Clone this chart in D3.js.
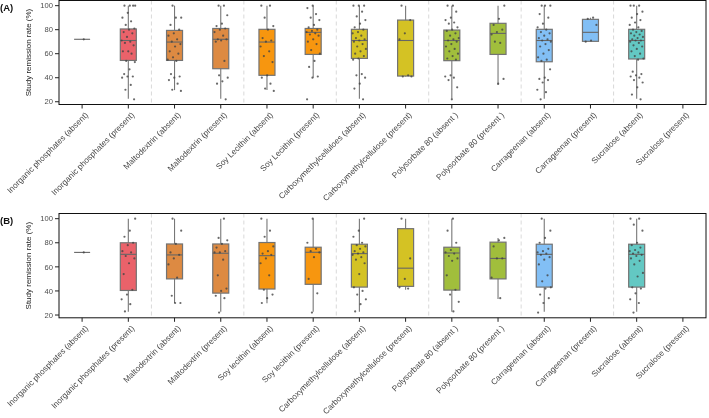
<!DOCTYPE html>
<html><head><meta charset="utf-8">
<script src="https://cdn.jsdelivr.net/npm/d3@7"></script>
<style>body{margin:0;background:#fff}svg{display:block;will-change:transform}text{font-family:"Liberation Sans",Arial,sans-serif}</style>
</head><body><svg id="c" width="709" height="418"></svg>
<script>
// ---------- DATA ----------
const categoriesA = ["Inorganic phosphates (absent)","Inorganic phosphates (present)","Maltodextrin (absent)","Maltodextrin (present)","Soy Lecithin (absent)","Soy Lecithin (present)","Carboxymethylcelluloes (absent)","Carboxymethylcellulose (present)","Polysorbate 80 (absent )","Polysorbate 80 (present )","Carrageenan (absent)","Carrageenan (present)","Sucralose (absent)","Sucralose (present)"];
const categoriesB = ["Inorganic phosphates (absent)","Inorganic phosphates (present)","Maltodextrin (absent)","Maltodextrin (present)","Soy lecithin (absent)","Soy lecithin (present)","Carboxymethylcellulose (absent)","Carboxymethylcellulose (present)","Polysorbate 80 (absent )","Polysorbate 80 (present )","Carrageenan (absent)","Carrageenan (present)","Sucralose (absent)","Sucralose (present)"];
const yTicks = [20,40,60,80,100];
// box stats: [lower whisker, Q1, median, Q3, upper whisker]
const statsA = [
 [72,72,72,72,72],[22.5,54.4,71,80.6,100],[29.7,54.4,69.7,79.4,100],[22.5,47.5,72,81,100],
 [29.7,42,69.7,80.3,100],[40,59.4,77.8,81,100],[22.5,56.1,71,80.3,100],[41,41.4,71,88,100],
 [22.5,54.2,71,79.7,100],[33.9,59.4,76.9,85.3,100],[22.5,53.3,71,80.3,100],[70.3,70.3,77.8,88.6,90],
 [22.5,55.6,71,80.3,100],null];
const pointsA = [
 [72],
 [100,100,100,100,94,90,87,84,81,80,78,77,74,71,70,69,67,62,62,60,54,53,47,43,41,41,40,34,30,22],
 [100,90,90,84,80,77,75,72,70,68,66,62,60,57,55,54,43,41,40,38,35,30,29],
 [100,100,92,85,83,81,80,78,75,72,72,71,70,54,42,40,37,35,22],
 [100,100,90,83,80,73,71,70,66,62,58,53,42,40,35,31,29],
 [100,98,93,90,88,84,82,80,79,78,77,76,75,72,70,68,63,60,54,49,41,40,22],
 [100,100,100,95,91,88,85,82,80,78,77,75,73,72,71,70,68,66,64,62,60,58,56,55,43,42,40,35,31,22],
 [100,88,77,72,42,41,41],
 [100,100,95,90,88,86,85,82,80,79,77,75,73,72,71,70,68,66,64,62,60,58,56,55,42,41,40,38,32,22],
 [100,89,84,80,78,76,69,70,39,35],
 [100,100,100,93,90,85,82,80,78,77,75,73,72,71,70,68,66,63,60,57,55,54,47,40,39,38,36,30,28,22],
 [90,89,84,71,70],
 [100,100,100,95,93,90,88,86,84,82,80,79,78,77,76,75,74,73,72,71,71,70,69,67,66,64,62,60,58,56,55,45,43,42,41,40,38,36,32,26,22],
 []];
const statsB = [
 [72,72,72,72,72],[22.8,40.4,70.4,80,100],[30,50,69.9,79,100],[22.8,38.2,71.3,79,100],
 [29.8,41.6,69.3,80.2,100],[22.8,45.5,72.1,76.3,100],[22.8,43.2,71,78.8,100],[41,43.8,58.9,91.7,100],
 [22.8,40.7,71.5,76.3,100],[33.4,50,67,80.5,84],[22.8,43.2,70.4,78.8,100],null,
 [22.8,43.2,70.4,78.8,100],null];
const pointsB = [
 [72],
 [100,90,85,80,78,73,72,69,67,63,54,41,37,33,29,23],
 [100,90,79,72,70,67,62,51,36,30,30],
 [100,84,82,79,76,73,72,72,66,53,42,40,36,34,22],
 [100,90,85,77,73,71,70,67,63,53,41,37,34,30],
 [100,80,75,73,72,68,50,38,22],
 [100,90,85,80,78,77,75,73,72,71,70,68,66,63,54,43,40,37,33,29,23],
 [100,67,50,43,42],
 [100,90,80,74,72,71,69,67,65,53,41,37,31,23],
 [84,82,77,67,67,51,34],
 [100,90,84,80,75,73,72,71,70,68,66,62,53,48,43,42,37,34,30,22],
 [],
 [100,100,95,90,80,78,76,74,73,72,71,70,69,67,65,62,55,52,43,42,38,33,30,22],
 []];
const groupColors = ["#EA626A","#DD8A42","#F7960F","#D4C224","#A1BE3C","#82BFF5","#63C8C3"];

// ---------- DRAW ----------
const svg = d3.select("#c");
const left = 59, right = 706;
const x = d3.scaleBand().domain(d3.range(14)).range([left, right]).paddingInner(0).paddingOuter(0);
const boxW = 16;

function panel(tag, top, bottom, cats, stats, pts){
  const g = svg.append("g");
  const y = d3.scaleLinear().domain([17.7, 104.3]).range([bottom, top]);
  for (let i = 1; i < 7; i++) {
    const sx = x(2*i);
    g.append("line").attr("x1", sx).attr("x2", sx).attr("y1", top).attr("y2", bottom)
     .attr("stroke", "#cfcfcf").attr("stroke-width", 0.8).attr("stroke-dasharray", "4,3");
  }
  cats.forEach((c, i) => {
    const s = stats[i]; if (!s) return;
    const cx = x(i) + x.bandwidth()/2;
    const col = groupColors[Math.floor(i/2)];
    g.append("line").attr("x1", cx).attr("x2", cx).attr("y1", y(s[0])).attr("y2", y(s[4]))
     .attr("stroke", "#777").attr("stroke-width", 1.1);
    if (s[3] - s[1] > 0.01) {
      g.append("rect").attr("x", cx - boxW/2).attr("width", boxW)
       .attr("y", y(s[3])).attr("height", y(s[1]) - y(s[3]))
       .attr("fill", col).attr("stroke", "#737373").attr("stroke-width", 1.2);
    }
    g.append("line").attr("x1", cx - boxW/2).attr("x2", cx + boxW/2).attr("y1", y(s[2])).attr("y2", y(s[2]))
     .attr("stroke", "#666").attr("stroke-width", 1.1);
  });
  cats.forEach((c, i) => {
    const cx = x(i) + x.bandwidth()/2;
    pts[i].forEach((v, j) => {
      const off = (((j + 1) * 0.6180339 + i * 0.37) % 1 - 0.5) * 14;
      g.append("circle").attr("cx", cx + off).attr("cy", y(v)).attr("r", 1.1)
       .attr("fill", "#444").attr("opacity", 0.8);
    });
  });
  g.append("rect").attr("x", left).attr("y", top).attr("width", right - left).attr("height", bottom - top)
   .attr("fill", "none").attr("stroke", "#111").attr("stroke-width", 1);
  yTicks.forEach(t => {
    g.append("line").attr("x1", left - 4).attr("x2", left).attr("y1", y(t)).attr("y2", y(t)).attr("stroke", "#222");
    g.append("text").attr("x", left - 6).attr("y", y(t)).attr("dy", "0.35em").attr("text-anchor", "end")
     .attr("font-size", 7.6).attr("fill", "#4d4d4d").text(t);
  });
  g.append("text").attr("transform", `translate(31,${(top+bottom)/2}) rotate(-90)`)
   .attr("text-anchor", "middle").attr("font-size", 8).attr("fill", "#222").text("Study remission rate (%)");
  cats.forEach((c, i) => {
    const cx = x(i) + x.bandwidth()/2;
    g.append("line").attr("x1", cx).attr("x2", cx).attr("y1", bottom).attr("y2", bottom + 4).attr("stroke", "#222");
    g.append("text").attr("transform", `translate(${cx + 2.5},${bottom + 7}) rotate(-45)`)
     .attr("text-anchor", "end").attr("dy", "0.7em").attr("font-size", 8.2).attr("fill", "#444")
     .attr("opacity", 0.99).text(c);
  });
  svg.append("text").attr("x", 0).attr("y", top + 10).attr("font-size", 9.5).attr("font-weight", "bold")
   .attr("fill", "#111").text(tag);
}
panel("(A)", 0.5, 104.5, categoriesA, statsA, pointsA);
panel("(B)", 213.5, 317.8, categoriesB, statsB, pointsB);
</script></body></html>
